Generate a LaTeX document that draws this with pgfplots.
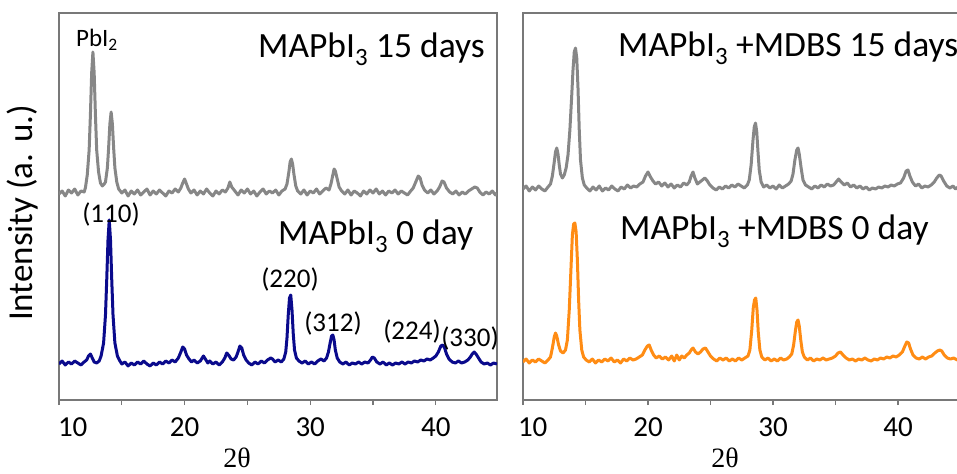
\documentclass[border=0pt]{standalone}
\usepackage{fontspec}
\setmainfont{Carlito}
\newfontfamily\serifgr{Liberation Serif}
\usepackage{pgfplots}
\pgfplotsset{compat=1.18}
\definecolor{xgray}{RGB}{135,135,135}
\definecolor{xblue}{RGB}{10,10,140}
\definecolor{xorange}{RGB}{255,140,20}
\definecolor{framegray}{RGB}{120,120,120}
\pgfplotsset{xrdax/.style={scale only axis, height=387bp, ymin=0, ymax=387, xmin=10,
  ytick=\empty, xtick={10,20,30,40}, minor xtick={15,25,35,45}, tick align=outside,
  xtick pos=bottom, major tick length=5bp, minor tick length=5bp,
  axis line style={framegray, line width=1.3bp},
  every tick/.style={framegray, line width=1.3bp},
  every minor tick/.style={framegray, line width=1.3bp},
  xticklabel style={font=\fontsize{29bp}{34bp}\selectfont, yshift=-9bp},
  /pgf/number format/assume math mode=true, anchor=south west},
  xrd/.style={line width=3bp, line join=round, no marks}}
\begin{document}
\begin{tikzpicture}
\path[use as bounding box] (0,0) rectangle (957bp,474bp);
\begin{axis}[xrdax, at={(59bp,74bp)}, width=438bp, xmax=44.87,
  xticklabels={\makebox[0pt][l]{\hspace{-1bp}10},20,30,40}]
\addplot[xrd, xgray] coordinates {
(10.0,206)(10.25,209)(10.5,204)(10.75,210)(11.0,207)(11.25,211)(11.5,205)(11.75,209)(12.0,208)
(12.1,212)(12.25,225)(12.4,250)(12.5,285)(12.6,327)(12.7,348)(12.8,327)(12.9,285)(13.0,250)
(13.15,228)(13.3,217)(13.45,214)(13.6,216)(13.7,218)(13.85,232)(13.95,252)(14.05,276)(14.15,288)
(14.25,276)(14.35,252)(14.45,232)(14.6,218)(14.75,211)
(15.0,207)(15.25,210)(15.5,204)(15.75,209)(16.0,206)(16.25,210)(16.5,205)(16.75,208)(17.0,211)
(17.25,205)(17.5,209)(17.75,206)(18.0,210)(18.25,207)(18.5,204)(18.75,209)(19.0,207)(19.25,211)
(19.5,208)(19.7,212)(19.85,217)(20.0,221)(20.15,216)(20.3,211)(20.5,207)(20.75,210)(21.0,205)
(21.25,209)(21.5,206)(21.75,211)(22.0,207)(22.25,204)(22.5,209)(22.75,206)(23.0,210)(23.25,208)
(23.45,212)(23.6,218)(23.75,213)(24.0,209)(24.25,205)(24.5,210)(24.75,207)(25.0,211)(25.25,206)
(25.5,209)(25.75,204)(26.0,208)(26.25,211)(26.5,206)(26.75,209)(27.0,207)(27.25,210)(27.5,205)
(27.75,209)(28.0,211)(28.15,216)(28.3,228)(28.4,238)(28.5,241)(28.6,236)(28.7,226)(28.85,214)
(29.0,209)(29.25,206)(29.5,210)(29.75,205)(30.0,209)(30.25,207)(30.5,211)(30.75,206)(31.0,209)
(31.25,212)(31.5,210)(31.65,216)(31.8,225)(31.9,231)(32.0,229)(32.15,221)(32.3,213)(32.5,209)
(32.75,206)(33.0,210)(33.25,205)(33.5,209)(33.75,207)(34.0,204)(34.25,209)(34.5,206)(34.75,210)
(35.0,207)(35.25,211)(35.5,206)(35.75,209)(36.0,205)(36.25,209)(36.5,207)(36.75,210)(37.0,206)
(37.25,209)(37.5,207)(37.75,205)(38.0,209)(38.2,212)(38.4,218)(38.6,224)(38.75,222)(38.9,215)
(39.1,210)(39.35,207)(39.6,210)(39.85,206)(40.1,209)(40.3,213)(40.5,219)(40.65,218)(40.85,212)
(41.1,208)(41.35,206)(41.6,209)(41.85,205)(42.1,208)(42.35,206)(42.6,209)(42.85,211)(43.1,213)
(43.3,212)(43.5,208)(43.75,205)(44.0,208)(44.25,206)(44.5,209)(44.75,205)(44.87,207)};
\addplot[xrd, xblue] coordinates {
(10.0,36)(10.25,39)(10.5,35)(10.75,38)(11.0,36)(11.25,39)(11.5,37)(11.75,35)(12.0,38)(12.2,40)
(12.35,44)(12.5,46)(12.65,42)(12.8,38)(13.0,37)(13.2,39)(13.35,44)(13.55,57)(13.7,85)(13.8,120)
(13.9,160)(14.0,180)(14.1,160)(14.2,120)(14.3,85)(14.45,57)(14.65,44)(14.85,39)(15.0,36)(15.25,38)
(15.5,34)(15.75,37)(16.0,35)(16.25,38)(16.5,36)(16.75,39)(17.0,36)(17.25,34)(17.5,37)(17.75,35)
(18.0,38)(18.25,36)(18.5,39)(18.75,37)(19.0,40)(19.25,38)(19.5,42)(19.7,48)(19.85,53)(20.0,51)
(20.15,45)(20.35,41)(20.55,38)(20.75,40)(21.0,37)(21.25,39)(21.5,44)(21.65,41)(21.85,37)(22.0,39)
(22.25,36)(22.5,38)(22.75,35)(23.0,38)(23.2,42)(23.35,47)(23.5,45)(23.7,41)(23.9,40)(24.1,43)
(24.25,48)(24.4,54)(24.55,52)(24.7,45)(24.9,40)(25.1,37)(25.35,35)(25.6,38)(25.85,36)(26.1,39)
(26.35,37)(26.6,40)(26.85,42)(27.0,41)(27.2,38)(27.45,40)(27.7,38)(27.9,41)(28.05,48)(28.15,62)
(28.25,85)(28.35,102)(28.45,105)(28.55,90)(28.65,66)(28.75,50)(28.9,42)(29.1,39)(29.35,37)(29.6,39)
(29.85,36)(30.1,38)(30.35,36)(30.6,39)(30.85,41)(31.1,39)(31.3,42)(31.45,48)(31.6,58)(31.7,64)
(31.8,65)(31.9,60)(32.0,50)(32.15,42)(32.35,38)(32.6,36)(32.85,38)(33.1,35)(33.35,37)(33.6,36)
(33.85,38)(34.1,36)(34.35,38)(34.6,37)(34.8,40)(34.95,43)(35.1,42)(35.3,38)(35.55,36)(35.8,38)
(36.05,35)(36.3,37)(36.55,35)(36.8,37)(37.05,36)(37.3,38)(37.55,36)(37.8,38)(38.05,37)(38.3,39)
(38.55,38)(38.8,40)(39.05,39)(39.3,41)(39.55,40)(39.8,42)(40.0,44)(40.2,48)(40.4,54)(40.55,55)
(40.7,52)(40.85,46)(41.05,41)(41.3,38)(41.55,37)(41.8,39)(42.05,37)(42.3,38)(42.55,40)(42.75,43)
(42.9,46)(43.05,48)(43.2,46)(43.4,42)(43.6,38)(43.85,36)(44.1,37)(44.35,35)(44.6,37)(44.87,36)};
\end{axis}
\begin{axis}[xrdax, at={(523bp,74bp)}, width=437.5bp, xmax=45,
  xticklabels={\makebox[0pt][l]{\hspace{-5bp}10},20,30,40}]
\addplot[xrd, xgray] coordinates {
(10.0,211)(10.25,214)(10.5,209)(10.75,213)(11.0,210)(11.25,214)(11.5,211)(11.75,209)(12.0,213)
(12.2,216)(12.35,224)(12.5,238)(12.6,248)(12.7,252)(12.8,246)(12.9,235)(13.0,226)(13.15,222)
(13.3,225)(13.45,232)(13.6,245)(13.75,270)(13.9,305)(14.0,330)(14.1,348)(14.2,352)(14.3,342)
(14.4,312)(14.5,270)(14.6,240)(14.75,222)(14.9,215)(15.1,212)(15.35,209)(15.6,213)(15.85,210)
(16.1,214)(16.35,209)(16.6,212)(16.85,210)(17.1,214)(17.35,211)(17.6,209)(17.85,213)(18.1,211)
(18.35,215)(18.6,212)(18.85,214)(19.1,213)(19.35,216)(19.6,218)(19.8,224)(20.0,228)(20.2,223)
(20.4,219)(20.6,216)(20.85,218)(21.1,214)(21.35,217)(21.6,213)(21.85,216)(22.1,212)(22.35,215)
(22.6,213)(22.85,217)(23.1,215)(23.3,218)(23.45,224)(23.6,228)(23.75,222)(23.95,216)(24.15,218)
(24.35,220)(24.55,222)(24.75,219)(24.95,215)(25.2,212)(25.45,210)(25.7,213)(25.95,211)(26.2,214)
(26.45,212)(26.7,215)(26.95,213)(27.2,216)(27.45,214)(27.7,212)(27.95,215)(28.1,220)(28.25,235)
(28.4,260)(28.5,273)(28.6,277)(28.7,268)(28.8,248)(28.9,230)(29.05,218)(29.25,213)(29.5,215)
(29.75,212)(30.0,214)(30.25,211)(30.5,215)(30.75,212)(31.0,214)(31.25,216)(31.45,219)(31.6,226)
(31.75,240)(31.9,250)(32.0,252)(32.1,246)(32.25,232)(32.4,220)(32.6,215)(32.85,213)(33.1,211)
(33.35,214)(33.6,212)(33.85,215)(34.1,213)(34.35,216)(34.6,214)(34.85,215)(35.05,218)(35.25,221)
(35.45,218)(35.7,215)(35.95,217)(36.2,213)(36.45,215)(36.7,212)(36.95,214)(37.2,211)(37.45,213)
(37.7,210)(37.95,212)(38.2,211)(38.45,213)(38.7,212)(38.95,214)(39.2,213)(39.45,215)(39.7,214)
(39.95,216)(40.2,217)(40.45,222)(40.65,229)(40.8,230)(40.95,224)(41.15,218)(41.4,214)(41.65,216)
(41.9,212)(42.15,214)(42.4,213)(42.65,215)(42.9,218)(43.1,222)(43.3,225)(43.45,224)(43.65,219)
(43.9,214)(44.15,212)(44.4,214)(44.6,211)(44.8,213)(45.0,212)};
\addplot[xrd, xorange] coordinates {
(10.0,38)(10.25,41)(10.5,37)(10.75,40)(11.0,38)(11.25,41)(11.5,39)(11.75,37)(12.0,40)(12.2,43)
(12.35,52)(12.5,63)(12.6,67)(12.7,64)(12.85,55)(13.0,49)(13.2,47)(13.4,50)(13.55,60)(13.7,90)
(13.85,135)(13.95,165)(14.05,176)(14.15,177)(14.25,168)(14.35,140)(14.45,100)(14.55,70)(14.7,50)
(14.85,43)(15.05,40)(15.3,38)(15.55,41)(15.8,37)(16.05,40)(16.3,38)(16.55,41)(16.8,39)(17.05,42)
(17.3,38)(17.55,40)(17.8,37)(18.05,41)(18.3,39)(18.55,42)(18.8,40)(19.05,41)(19.3,43)(19.55,45)
(19.75,50)(19.95,54)(20.1,55)(20.25,50)(20.45,45)(20.65,42)(20.9,44)(21.15,41)(21.4,43)(21.65,40)
(21.9,44)(22.1,39)(22.3,45)(22.5,40)(22.7,44)(22.9,42)(23.1,45)(23.3,47)(23.45,50)(23.6,52)
(23.8,48)(24.0,46)(24.2,48)(24.4,51)(24.6,52)(24.8,48)(25.0,44)(25.25,41)(25.5,39)(25.75,42)
(26.0,40)(26.25,42)(26.5,39)(26.75,41)(27.0,39)(27.25,42)(27.5,40)(27.75,42)(28.0,44)(28.15,50)
(28.3,70)(28.42,92)(28.52,100)(28.62,102)(28.72,90)(28.82,68)(28.95,50)(29.1,43)(29.35,40)(29.6,42)
(29.85,39)(30.1,41)(30.35,39)(30.6,42)(30.85,40)(31.1,41)(31.3,43)(31.5,46)(31.65,55)(31.8,70)
(31.9,78)(32.0,80)(32.1,74)(32.22,60)(32.35,48)(32.5,43)(32.75,40)(33.0,42)(33.25,39)(33.5,41)
(33.75,40)(34.0,42)(34.25,40)(34.5,41)(34.75,42)(35.0,44)(35.2,47)(35.4,48)(35.6,45)(35.85,42)
(36.1,40)(36.35,41)(36.6,39)(36.85,41)(37.1,40)(37.35,42)(37.6,40)(37.85,39)(38.1,41)(38.35,40)
(38.6,42)(38.85,41)(39.1,43)(39.35,42)(39.6,44)(39.85,43)(40.1,45)(40.35,48)(40.55,54)(40.7,58)
(40.85,57)(41.0,51)(41.2,45)(41.45,42)(41.7,41)(41.95,43)(42.2,41)(42.45,43)(42.7,44)(42.95,47)
(43.15,49)(43.35,50)(43.5,49)(43.7,45)(43.95,42)(44.2,41)(44.45,42)(44.75,40)(45.0,41)};
\end{axis}
% texts
\node[anchor=base, font=\fontsize{25bp}{29bp}\selectfont, inner sep=0pt] at (97bp,427bp) {PbI\textsubscript{2}};
\node[anchor=base west, font=\fontsize{35.5bp}{40bp}\selectfont, inner sep=0pt] at (258bp,416bp) {MAPbI\textsubscript{3} 15 days};
\node[anchor=base west, font=\fontsize{35.5bp}{40bp}\selectfont, inner sep=0pt] at (278bp,229bp) {MAPbI\textsubscript{3} 0 day};
\node[anchor=base, font=\fontsize{27bp}{31bp}\selectfont, inner sep=0pt] at (111bp,251bp) {(110)};
\node[anchor=base, font=\fontsize{27bp}{31bp}\selectfont, inner sep=0pt] at (290bp,186bp) {(220)};
\node[anchor=base, font=\fontsize{27bp}{31bp}\selectfont, inner sep=0pt] at (333bp,142bp) {(312)};
\node[anchor=base, font=\fontsize{27bp}{31bp}\selectfont, inner sep=0pt] at (412bp,134bp) {(224)};
\node[anchor=base, font=\fontsize{27bp}{31bp}\selectfont, inner sep=0pt] at (470bp,127bp) {(330)};
\node[anchor=base west, font=\fontsize{35.5bp}{40bp}\selectfont, inner sep=0pt] at (618bp,417bp) {MAPbI\textsubscript{3} +MDBS 15 days};
\node[anchor=base west, font=\fontsize{35.5bp}{40bp}\selectfont, inner sep=0pt] at (620bp,234bp) {MAPbI\textsubscript{3} +MDBS 0 day};
\node[rotate=90, font=\fontsize{35bp}{40bp}\selectfont, inner sep=0pt] at (23bp,261bp) {Intensity (a. u.)};
\node[font=\serifgr\fontsize{28bp}{32bp}\selectfont, inner sep=0pt] at (237bp,16bp) {2θ};
\node[font=\serifgr\fontsize{28bp}{32bp}\selectfont, inner sep=0pt] at (725bp,16bp) {2θ};
\end{tikzpicture}
\end{document}
